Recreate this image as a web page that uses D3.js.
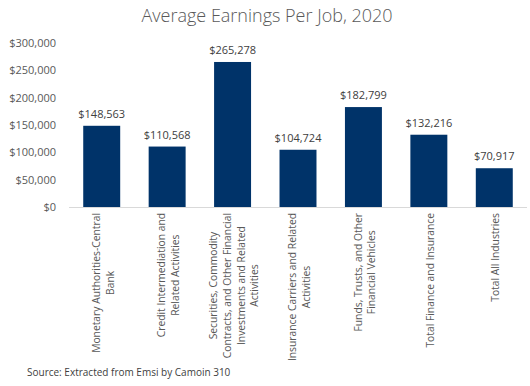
<!DOCTYPE html>
<html><head><meta charset="utf-8">
<script src="https://cdn.jsdelivr.net/npm/d3@7"></script>
<style>
body{margin:0;background:#fff;}
svg{display:block;font-family:"Open Sans",sans-serif;}
</style></head>
<body>
<svg id="c" width="530" height="386"></svg>
<script>
const categories = [
  "Monetary Authorities-Central|Bank",
  "Credit Intermediation and|Related Activities",
  "Securities, Commodity|Contracts, and Other Financial|Investments and Related|Activities",
  "Insurance Carriers and Related|Activities",
  "Funds, Trusts, and Other|Financial Vehicles",
  "Total Finance and Insurance",
  "Total All Industries"
];
const values = [148563, 110568, 265278, 104724, 182799, 132216, 70917];
const yTicks = [0, 50000, 100000, 150000, 200000, 250000, 300000];
const title = "Average Earnings Per Job, 2020";
const source = "Source: Extracted from Emsi by Camoin 310";

const svg = d3.select("#c");
const x = d3.scaleBand().domain(categories).range([69, 527]).paddingInner(0.435).paddingOuter(0.2175);
const y = d3.scaleLinear().domain([0, 300000]).range([207, 43]);
const fmt = v => "$" + d3.format(",")(v);

svg.append("text").attr("x", 267).attr("y", 22).attr("text-anchor", "middle")
  .attr("fill", "#595959").attr("font-size", 18).attr("font-weight", 300).text(title);

const ya = svg.append("g").attr("transform", "translate(69,0)")
  .call(d3.axisLeft(y).tickValues(yTicks).tickFormat(fmt).tickSize(0).tickPadding(13));
ya.select(".domain").remove();
ya.selectAll("text").attr("fill", "#595959").attr("font-size", 11).attr("font-family", "Open Sans");

svg.selectAll("rect.bar").data(values).join("rect").attr("class", "bar")
  .attr("x", (d, i) => x(categories[i])).attr("width", x.bandwidth())
  .attr("y", d => y(d)).attr("height", d => y(0) - y(d)).attr("fill", "#003369");

svg.append("line").attr("x1", 69).attr("x2", 527).attr("y1", y(0) + 0.5).attr("y2", y(0) + 0.5)
  .attr("stroke", "#d9d9d9").attr("stroke-width", 1);

svg.selectAll("text.val").data(values).join("text").attr("class", "val")
  .attr("x", (d, i) => x(categories[i]) + x.bandwidth() / 2).attr("y", d => y(d) - 8)
  .attr("text-anchor", "middle").attr("fill", "#404040").attr("font-size", 11).text(fmt);

const lh = 13.8;
categories.forEach((c, i) => {
  const lines = c.split("|");
  const cx = x(c) + x.bandwidth() / 2 + 1.5;
  const g = svg.append("text").attr("text-anchor", "middle").attr("fill", "#595959").attr("font-size", 10.3);
  lines.forEach((l, j) => {
    g.append("tspan").attr("x", 0).attr("y", (j - (lines.length - 1) / 2) * lh).attr("dy", "0.35em").text(l);
  });
  let maxW = 0;
  g.selectAll("tspan").each(function(){ maxW = Math.max(maxW, this.getComputedTextLength()); });
  g.attr("transform", `translate(${cx},${213 + maxW / 2}) rotate(-90)`);
});

svg.append("text").attr("x", 27).attr("y", 376).attr("fill", "#404040").attr("font-size", 10).text(source);
</script>
</body></html>
